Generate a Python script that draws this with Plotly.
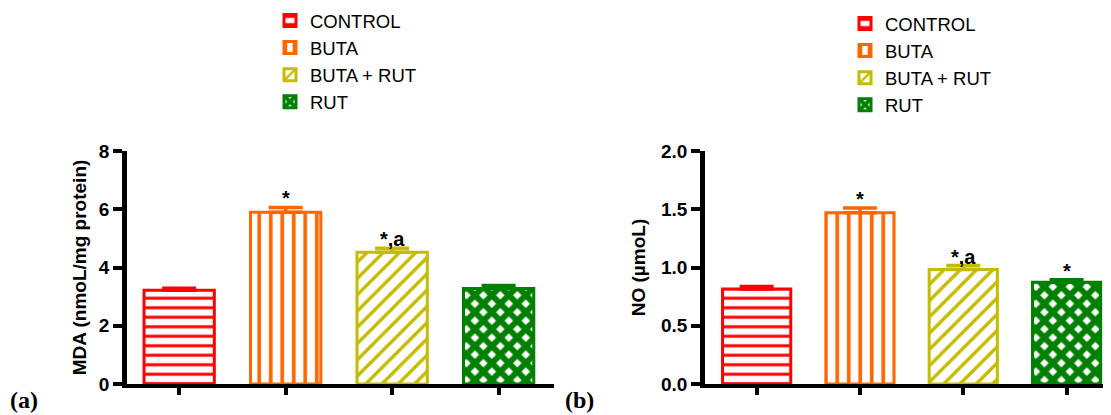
import plotly.graph_objects as go

groups = ["CONTROL", "BUTA", "BUTA + RUT", "RUT"]
mda_values = [3.22, 5.90, 4.52, 3.28]
mda_errors = [0.07, 0.16, 0.14, 0.10]
mda_marks = ["", "*", "*,a", ""]
no_values = [0.816, 1.47, 0.983, 0.873]
no_errors = [0.02, 0.04, 0.034, 0.021]
no_marks = ["", "*", "*,a", "*"]
mda_ticks = [0, 2, 4, 6, 8]
no_ticks = [0, 0.5, 1.0, 1.5, 2.0]
no_tick_text = ["0.0", "0.5", "1.0", "1.5", "2.0"]

colors = ["#FF0000", "#FF6600", "#C4BC00", "#008000"]
shapes = ["-", "|", "/", "x"]
pat_size = [9.5, 11.5, 11.5, 12]
pat_solid = [0.32, 0.32, 0.3, 0.74]

# page body has an 8px margin, so the figure is 8px smaller and all positions are shifted
OFF = 8
W, H = 1111 - OFF, 415 - OFF
FONT = "Liberation Sans, Arial, sans-serif"
SERIF = "Liberation Serif, Times New Roman, serif"


def px(xs):
    return (xs - OFF) / W


def py(ys):
    return 1 - (ys - OFF) / H


fig = go.Figure()


def add_panel(values, errors, xa, ya, legend):
    for i, g in enumerate(groups):
        fig.add_trace(go.Bar(
            x=[g], y=[values[i]], name=g, width=0.66,
            xaxis=xa, yaxis=ya, legend=legend, legendgroup=legend + g,
            marker=dict(
                color="white",
                line=dict(color=colors[i], width=3),
                pattern=dict(shape=shapes[i], fgcolor=colors[i], bgcolor="white",
                             size=pat_size[i], solidity=pat_solid[i], fillmode="replace"),
            ),
            error_y=dict(type="data", symmetric=False, array=[errors[i]], arrayminus=[0],
                         color=colors[i], thickness=3.5, width=17),
        ))


add_panel(mda_values, mda_errors, "x", "y", "legend")
add_panel(no_values, no_errors, "x2", "y2", "legend2")

ann = []
for i, g in enumerate(groups):
    if mda_marks[i]:
        ann.append(dict(x=g, y=mda_values[i] + mda_errors[i], xref="x", yref="y",
                        text=mda_marks[i], showarrow=False, yanchor="bottom", yshift=-4,
                        font=dict(family=FONT, size=20, color="black", weight="bold")))
    if no_marks[i]:
        ann.append(dict(x=g, y=no_values[i] + no_errors[i], xref="x2", yref="y2",
                        text=no_marks[i], showarrow=False, yanchor="bottom", yshift=-4,
                        font=dict(family=FONT, size=20, color="black", weight="bold")))
ann.append(dict(x=0, y=py(400), xref="paper", yref="paper", text="(a)", showarrow=False,
                xanchor="left", yanchor="middle",
                font=dict(family=SERIF, size=24, color="black", weight="bold")))
ann.append(dict(x=px(563), y=py(400), xref="paper", yref="paper", text="(b)", showarrow=False,
                xanchor="left", yanchor="middle",
                font=dict(family=SERIF, size=24, color="black", weight="bold")))

xcommon = dict(type="category", showticklabels=False, ticks="outside", ticklen=7, tickwidth=4,
               tickcolor="black", showline=True, linewidth=4, linecolor="black",
               showgrid=False, zeroline=False, fixedrange=True)
ycommon = dict(ticks="outside", ticklen=9, tickwidth=3.5, tickcolor="black", showline=True,
               linewidth=4.5, linecolor="black", showgrid=False, zeroline=False,
               tickfont=dict(family=FONT, size=19, color="black", weight="bold"))

y_dom = [py(384), py(151)]

fig.update_layout(
    width=W, height=H, margin=dict(l=0, r=0, t=0, b=0, autoexpand=False),
    paper_bgcolor="white", plot_bgcolor="white",
    barmode="overlay",
    xaxis=dict(xcommon, domain=[px(127), px(554)], range=[-0.49, 3.52], anchor="y"),
    yaxis=dict(ycommon, domain=y_dom, range=[0, 8], tickvals=mda_ticks, anchor="x",
               title=dict(text="MDA (nmoL/mg protein)", standoff=9,
                          font=dict(family=FONT, size=19, color="black", weight="bold"))),
    xaxis2=dict(xcommon, domain=[px(705), 1.0], range=[-0.5, 3.43], anchor="y2"),
    yaxis2=dict(ycommon, domain=y_dom, range=[0, 2.0], tickvals=no_ticks, ticktext=no_tick_text,
                anchor="x2",
                title=dict(text="NO (µmoL)", standoff=12,
                           font=dict(family=FONT, size=19, color="black", weight="bold"))),
    legend=dict(x=px(270), y=py(2), xanchor="left", yanchor="top", tracegroupgap=0,
                font=dict(family=FONT, size=18.5, color="black"), bgcolor="rgba(0,0,0,0)"),
    legend2=dict(x=px(845), y=py(5), xanchor="left", yanchor="top", tracegroupgap=0,
                 font=dict(family=FONT, size=18.5, color="black"), bgcolor="rgba(0,0,0,0)"),
    annotations=ann,
    showlegend=True,
)

fig.write_html("out.html")
